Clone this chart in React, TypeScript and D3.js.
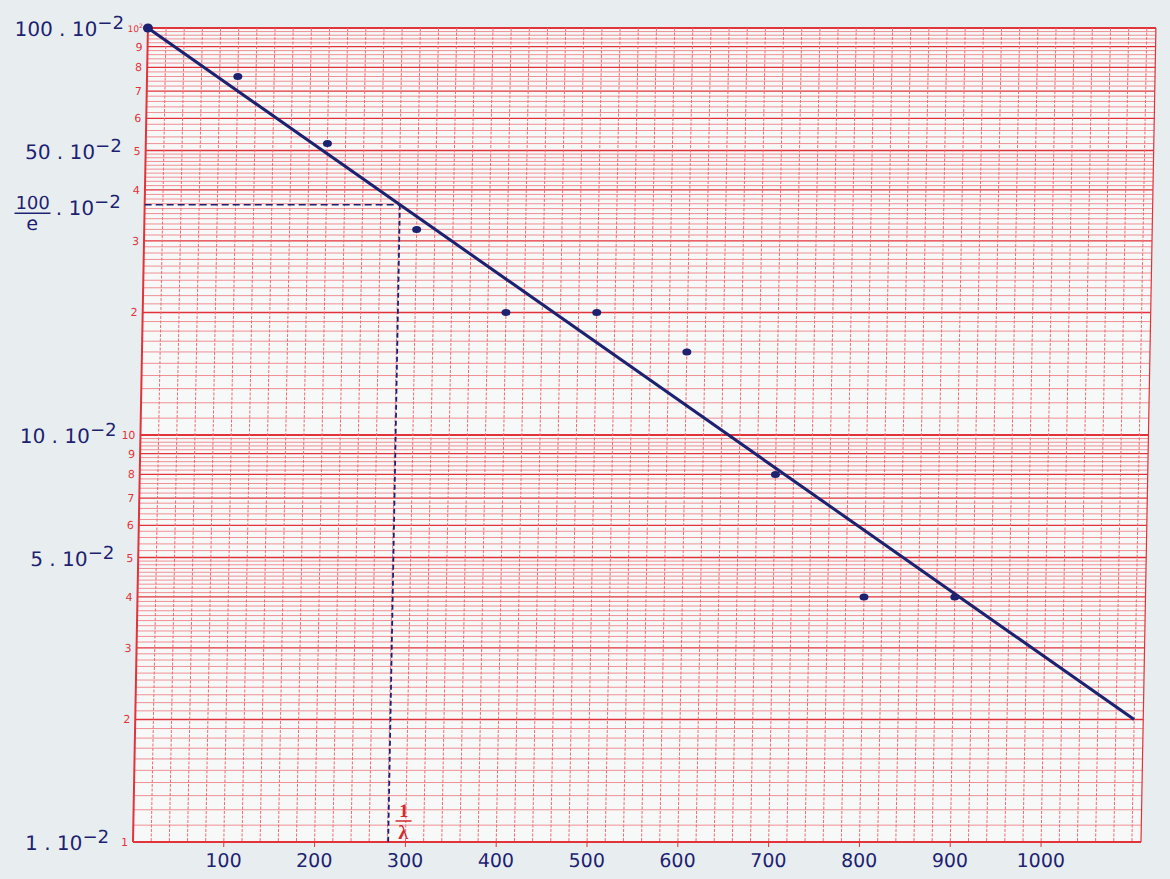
import React from "react";
import * as d3 from "d3";

// points: x in units, y in 10^-2
const xValues = [0, 100, 200, 300, 400, 500, 600, 700, 800, 900];
const yValues = [100, 76, 52, 32, 20, 20, 16, 8, 4, 4];

// fitted line, end points
const fitX = [0, 1100];
const fitY = [100, 2];

// 1/lambda read where the line crosses 100/e
const invLambda = 281;

const xTickValues = [100, 200, 300, 400, 500, 600, 700, 800, 900, 1000];

// navy labels on the left
const leftLabelValues = [100, 50, 100 / Math.E, 10, 5, 1];
const leftLabelTexts = ["100", "50", "100/e", "10", "5", "1"];

// small red figures printed on the paper
const paperLabelValues = [100, 90, 80, 70, 60, 50, 40, 30, 20, 10, 9, 8, 7, 6, 5, 4, 3, 2, 1];
const paperLabelTexts = ["10", "9", "8", "7", "6", "5", "4", "3", "2", "10", "9", "8", "7", "6", "5", "4", "3", "2", "1"];

const W = 1170;
const H = 879;
const SKEW = -1.05; // the scan is slightly sheared
const NAVY = "#1d2270";
const RED = "#e2333b";
const RED_LIGHT = "#ee6d74";

function paperLines() {
  // semi-log paper: 0.1 steps from 1 to 5, 0.2 steps from 5 to 10
  const out: { v: number; w: number }[] = [];
  [1, 10].forEach((d) => {
    const steps = [
      ...d3.range(1, 5, 0.1),
      ...d3.range(5, 10, 0.2),
    ].map((s) => Math.round(s * 10) / 10);
    steps.forEach((s) => {
      const isInt = Math.abs(s - Math.round(s)) < 1e-6;
      let w = 0.75;
      if (isInt) w = s === 2 || s === 5 ? 1.6 : 1.2;
      if (s === 1) w = 2.2;
      out.push({ v: s * d, w });
    });
  });
  out.push({ v: 100, w: 2 });
  return out;
}

export default function App() {
  const x = d3.scaleLinear().domain([0, 1110]).range([133, 1141]);
  const y = d3.scaleLog().domain([1, 100]).range([842, 28]);

  const [x0, x1] = x.range();
  const yBottom = y(1);
  const yTop = y(100);

  const hLines = paperLines();
  const vLines = d3.range(20, 1101, 20);

  const line = d3
    .line<number>()
    .x((_, i) => x(fitX[i]))
    .y((d) => y(d));

  const lab = y(100 / Math.E);
  const xl = x(invLambda);
  const shear = `translate(0,${yBottom}) skewX(${SKEW}) translate(0,${-yBottom})`;

  return (
    <div style={{ position: "absolute", left: 0, top: 0 }}>
      <svg width={W} height={H} style={{ display: "block" }}>
        <rect width={W} height={H} fill="#e8eef0" />
        <g transform={shear}>
          <rect x={x0} y={yTop} width={x1 - x0} height={yBottom - yTop} fill="#f7f8f8" />

          {/* horizontal log grid */}
          {hLines.map((l, i) => (
            <line
              key={`h${i}`}
              x1={x0}
              x2={x1}
              y1={y(l.v)}
              y2={y(l.v)}
              stroke={l.w > 1 ? RED : RED_LIGHT}
              strokeWidth={l.w}
            />
          ))}

          {/* vertical grid */}
          {vLines.map((v) => (
            <line
              key={`v${v}`}
              x1={x(v)}
              x2={x(v)}
              y1={yTop}
              y2={yBottom}
              stroke={RED_LIGHT}
              strokeWidth={1}
              strokeDasharray="3 1.5"
            />
          ))}
          <line x1={x0} x2={x0} y1={yTop} y2={yBottom} stroke={RED} strokeWidth={2} />
          <line x1={x1} x2={x1} y1={yTop} y2={yBottom} stroke={RED} strokeWidth={1.2} />

          {/* ticks + x labels */}
          {xTickValues.map((t) => (
            <g key={`t${t}`}>
              <line x1={x(t)} x2={x(t)} y1={yBottom} y2={yBottom + 5} stroke={RED} strokeWidth={1} />
              <text
                x={x(t)}
                y={867}
                textAnchor="middle"
                fontFamily="DejaVu Sans"
                fontSize={19}
                fill={NAVY}
              >
                {t}
              </text>
            </g>
          ))}

          {/* red figures of the paper */}
          {paperLabelValues.map((v, i) => (
            <text
              key={`p${i}`}
              x={x0 - 5}
              y={y(v) + 4}
              textAnchor="end"
              fontFamily="DejaVu Sans"
              fontSize={v === 100 ? 9 : 11}
              fill={RED}
            >
              {paperLabelTexts[i]}
              {v === 100 && (
                <tspan dy={-4} fontSize={6}>
                  2
                </tspan>
              )}
            </text>
          ))}

          {/* navy value labels */}
          {leftLabelValues.map((v, i) =>
            leftLabelTexts[i] === "100/e" ? (
              <g key={`l${i}`} fontFamily="DejaVu Sans" fill={NAVY}>
                <text x={x0 - 112} y={lab + 4} textAnchor="middle" fontSize={18}>
                  100
                </text>
                <line x1={x0 - 130} x2={x0 - 94} y1={lab + 8.5} y2={lab + 8.5} stroke={NAVY} strokeWidth={1.5} />
                <text x={x0 - 112} y={lab + 25} textAnchor="middle" fontSize={19}>
                  e
                </text>
                <text x={x0 - 24} y={lab + 10} textAnchor="end" fontSize={20}>
                  . 10
                  <tspan dy={-7} fontSize={18}>
                    −2
                  </tspan>
                </text>
              </g>
            ) : (
              <text
                key={`l${i}`}
                x={x0 - 24}
                y={y(v) + 8}
                textAnchor="end"
                fontFamily="DejaVu Sans"
                fontSize={20}
                fill={NAVY}
              >
                {leftLabelTexts[i]} . 10
                <tspan dy={-7} fontSize={18}>
                  −2
                </tspan>
              </text>
            )
          )}

          {/* construction of 1/lambda */}
          <line
            x1={x(0)}
            x2={xl}
            y1={lab}
            y2={lab}
            stroke={NAVY}
            strokeWidth={1.4}
            strokeDasharray="7 4"
          />
          <line
            x1={xl}
            x2={xl}
            y1={lab}
            y2={yBottom}
            stroke={NAVY}
            strokeWidth={1.8}
            strokeDasharray="5 3"
          />
          <g fill="#d42a2a" fontFamily="Liberation Serif" fontWeight="bold" textAnchor="middle">
            <text x={xl + 15} y={yBottom - 25} fontSize={19}>
              1
            </text>
            <line
              x1={xl + 7}
              x2={xl + 23}
              y1={yBottom - 21}
              y2={yBottom - 21}
              stroke="#d42a2a"
              strokeWidth={1.6}
            />
            <text x={xl + 15} y={yBottom - 3} fontSize={20}>
              λ
            </text>
          </g>

          {/* fitted line */}
          <path d={line(fitY) ?? ""} fill="none" stroke={NAVY} strokeWidth={3} />

          {/* data points */}
          {xValues.map((v, i) => (
            <ellipse
              key={`d${i}`}
              cx={x(v)}
              cy={y(yValues[i])}
              rx={i === 0 ? 5 : 4.5}
              ry={i === 0 ? 4.5 : 3.5}
              fill={NAVY}
            />
          ))}
        </g>
      </svg>
    </div>
  );
}
